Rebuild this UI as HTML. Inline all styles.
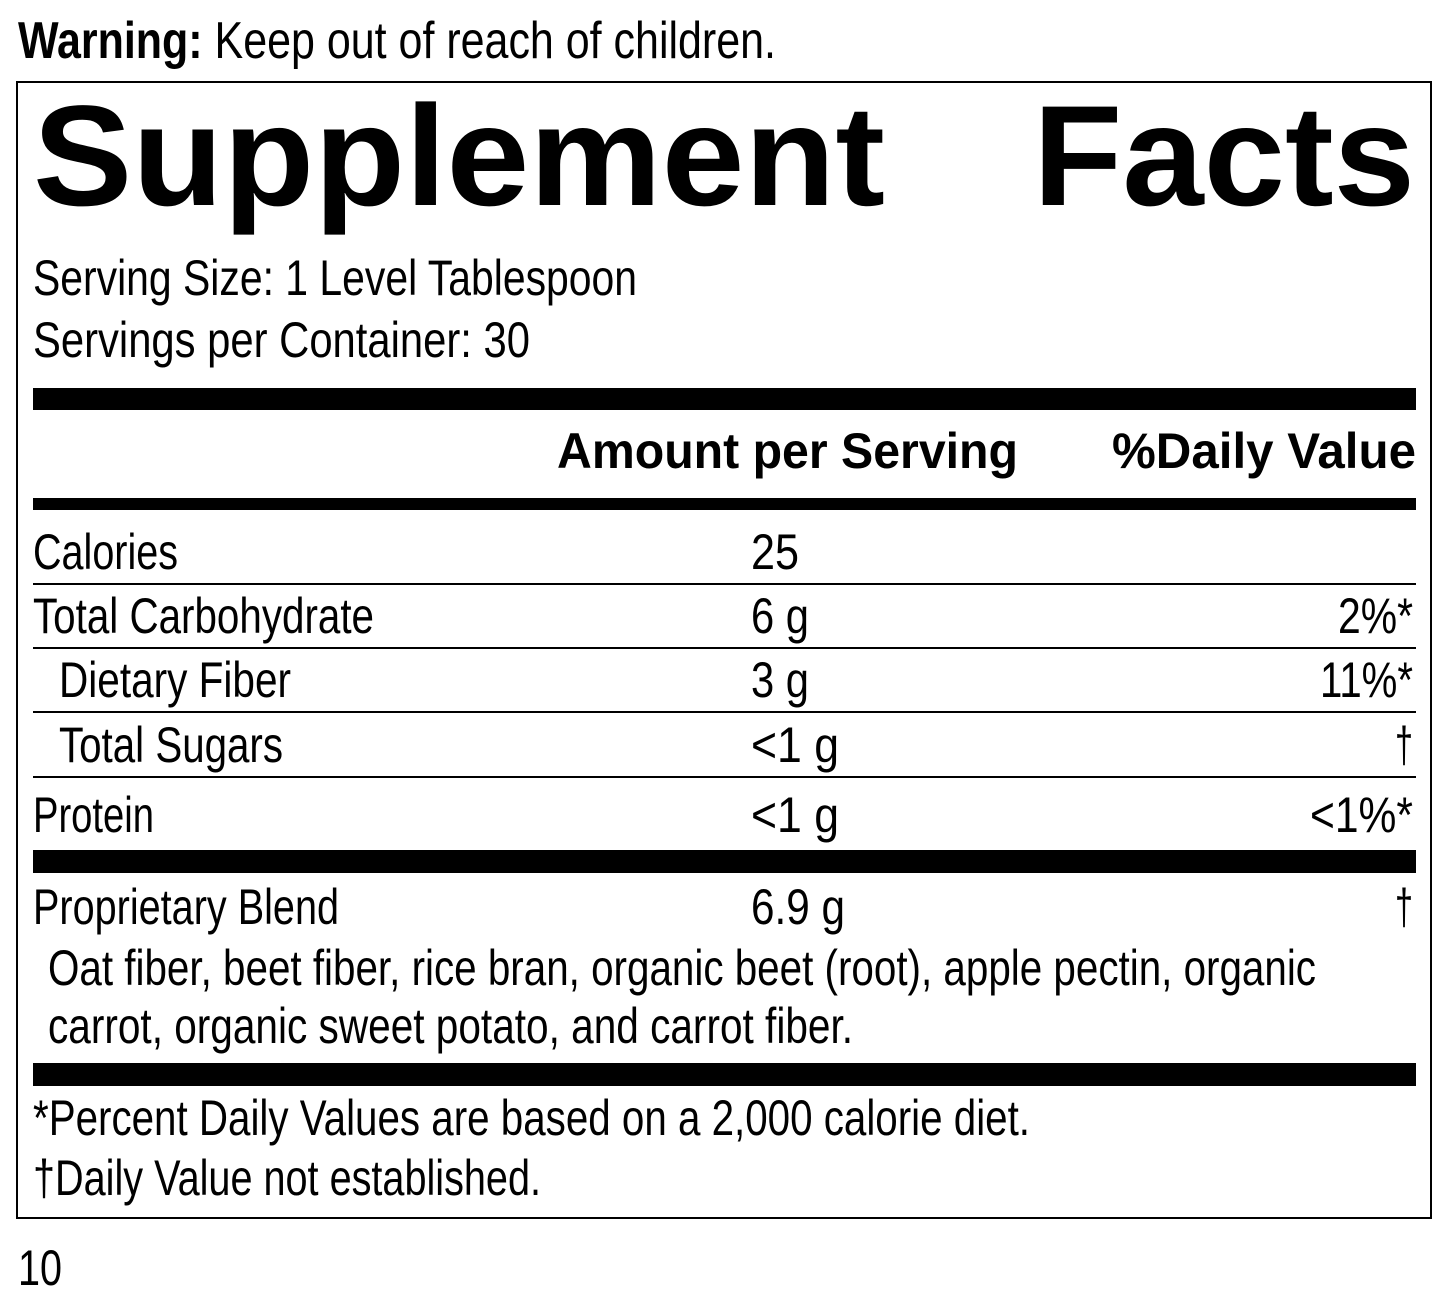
<!DOCTYPE html>
<html><head><meta charset="utf-8"><style>
html,body{margin:0;padding:0;background:#fff;}
svg{display:block;}
text{font-family:"Liberation Sans",sans-serif;fill:#000;}
.r{font-size:50px;}
.b{font-weight:bold;}
</style></head><body>
<svg width="1445" height="1307" viewBox="0 0 1445 1307" xmlns="http://www.w3.org/2000/svg">
<text x="18" y="58" class="r" style="font-size:52px" textLength="758" lengthAdjust="spacingAndGlyphs"><tspan font-weight="bold">Warning:</tspan> Keep out of reach of children.</text>
<rect x="17" y="82" width="1414" height="1136" fill="none" stroke="#000" stroke-width="2"/>
<text x="33" y="205" class="b" style="font-size:143px" textLength="852" lengthAdjust="spacingAndGlyphs">Supplement</text>
<text x="1033" y="205" class="b" style="font-size:143px" textLength="382" lengthAdjust="spacingAndGlyphs">Facts</text>
<text x="33" y="295" class="r" textLength="604" lengthAdjust="spacingAndGlyphs">Serving Size: 1 Level Tablespoon</text>
<text x="33" y="357" class="r" textLength="497" lengthAdjust="spacingAndGlyphs">Servings per Container: 30</text>
<rect x="33" y="388" width="1383" height="22"/>
<text x="557" y="468" class="r b" textLength="461" lengthAdjust="spacingAndGlyphs">Amount per Serving</text>
<text x="1112" y="468" class="r b" textLength="304" lengthAdjust="spacingAndGlyphs">%Daily Value</text>
<rect x="33" y="498" width="1383" height="12"/>
<text x="33" y="569" class="r" textLength="145" lengthAdjust="spacingAndGlyphs">Calories</text>
<text x="751" y="569" class="r" textLength="48" lengthAdjust="spacingAndGlyphs">25</text>
<rect x="33" y="583" width="1383" height="2"/>
<text x="33" y="633" class="r" textLength="341" lengthAdjust="spacingAndGlyphs">Total Carbohydrate</text>
<text x="751" y="633" class="r" textLength="58" lengthAdjust="spacingAndGlyphs">6 g</text>
<text x="1338" y="633" class="r" textLength="75" lengthAdjust="spacingAndGlyphs">2%*</text>
<rect x="33" y="647" width="1383" height="2"/>
<text x="59" y="697" class="r" textLength="232" lengthAdjust="spacingAndGlyphs">Dietary Fiber</text>
<text x="751" y="697" class="r" textLength="58" lengthAdjust="spacingAndGlyphs">3 g</text>
<text x="1320" y="697" class="r" textLength="93" lengthAdjust="spacingAndGlyphs">11%*</text>
<rect x="33" y="711" width="1383" height="2"/>
<text x="59" y="762" class="r" textLength="224" lengthAdjust="spacingAndGlyphs">Total Sugars</text>
<text x="751" y="762" class="r" textLength="88" lengthAdjust="spacingAndGlyphs">&lt;1 g</text>
<text x="1395" y="762" class="r" textLength="18" lengthAdjust="spacingAndGlyphs">†</text>
<rect x="33" y="776" width="1383" height="2"/>
<text x="33" y="832" class="r" textLength="121" lengthAdjust="spacingAndGlyphs">Protein</text>
<text x="751" y="832" class="r" textLength="88" lengthAdjust="spacingAndGlyphs">&lt;1 g</text>
<text x="1310" y="832" class="r" textLength="103" lengthAdjust="spacingAndGlyphs">&lt;1%*</text>
<rect x="33" y="850" width="1383" height="23"/>
<text x="33" y="924" class="r" textLength="306" lengthAdjust="spacingAndGlyphs">Proprietary Blend</text>
<text x="751" y="924" class="r" textLength="94" lengthAdjust="spacingAndGlyphs">6.9 g</text>
<text x="1395" y="924" class="r" textLength="18" lengthAdjust="spacingAndGlyphs">†</text>
<text x="48" y="985" class="r" textLength="1268" lengthAdjust="spacingAndGlyphs">Oat fiber, beet fiber, rice bran, organic beet (root), apple pectin, organic</text>
<text x="48" y="1043" class="r" textLength="805" lengthAdjust="spacingAndGlyphs">carrot, organic sweet potato, and carrot fiber.</text>
<rect x="33" y="1063" width="1383" height="23"/>
<text x="33" y="1135" class="r" textLength="997" lengthAdjust="spacingAndGlyphs">*Percent Daily Values are based on a 2,000 calorie diet.</text>
<text x="33" y="1195" class="r" textLength="508" lengthAdjust="spacingAndGlyphs">†Daily Value not established.</text>
<text x="18" y="1285" class="r" textLength="44" lengthAdjust="spacingAndGlyphs">10</text>
</svg>
</body></html>
